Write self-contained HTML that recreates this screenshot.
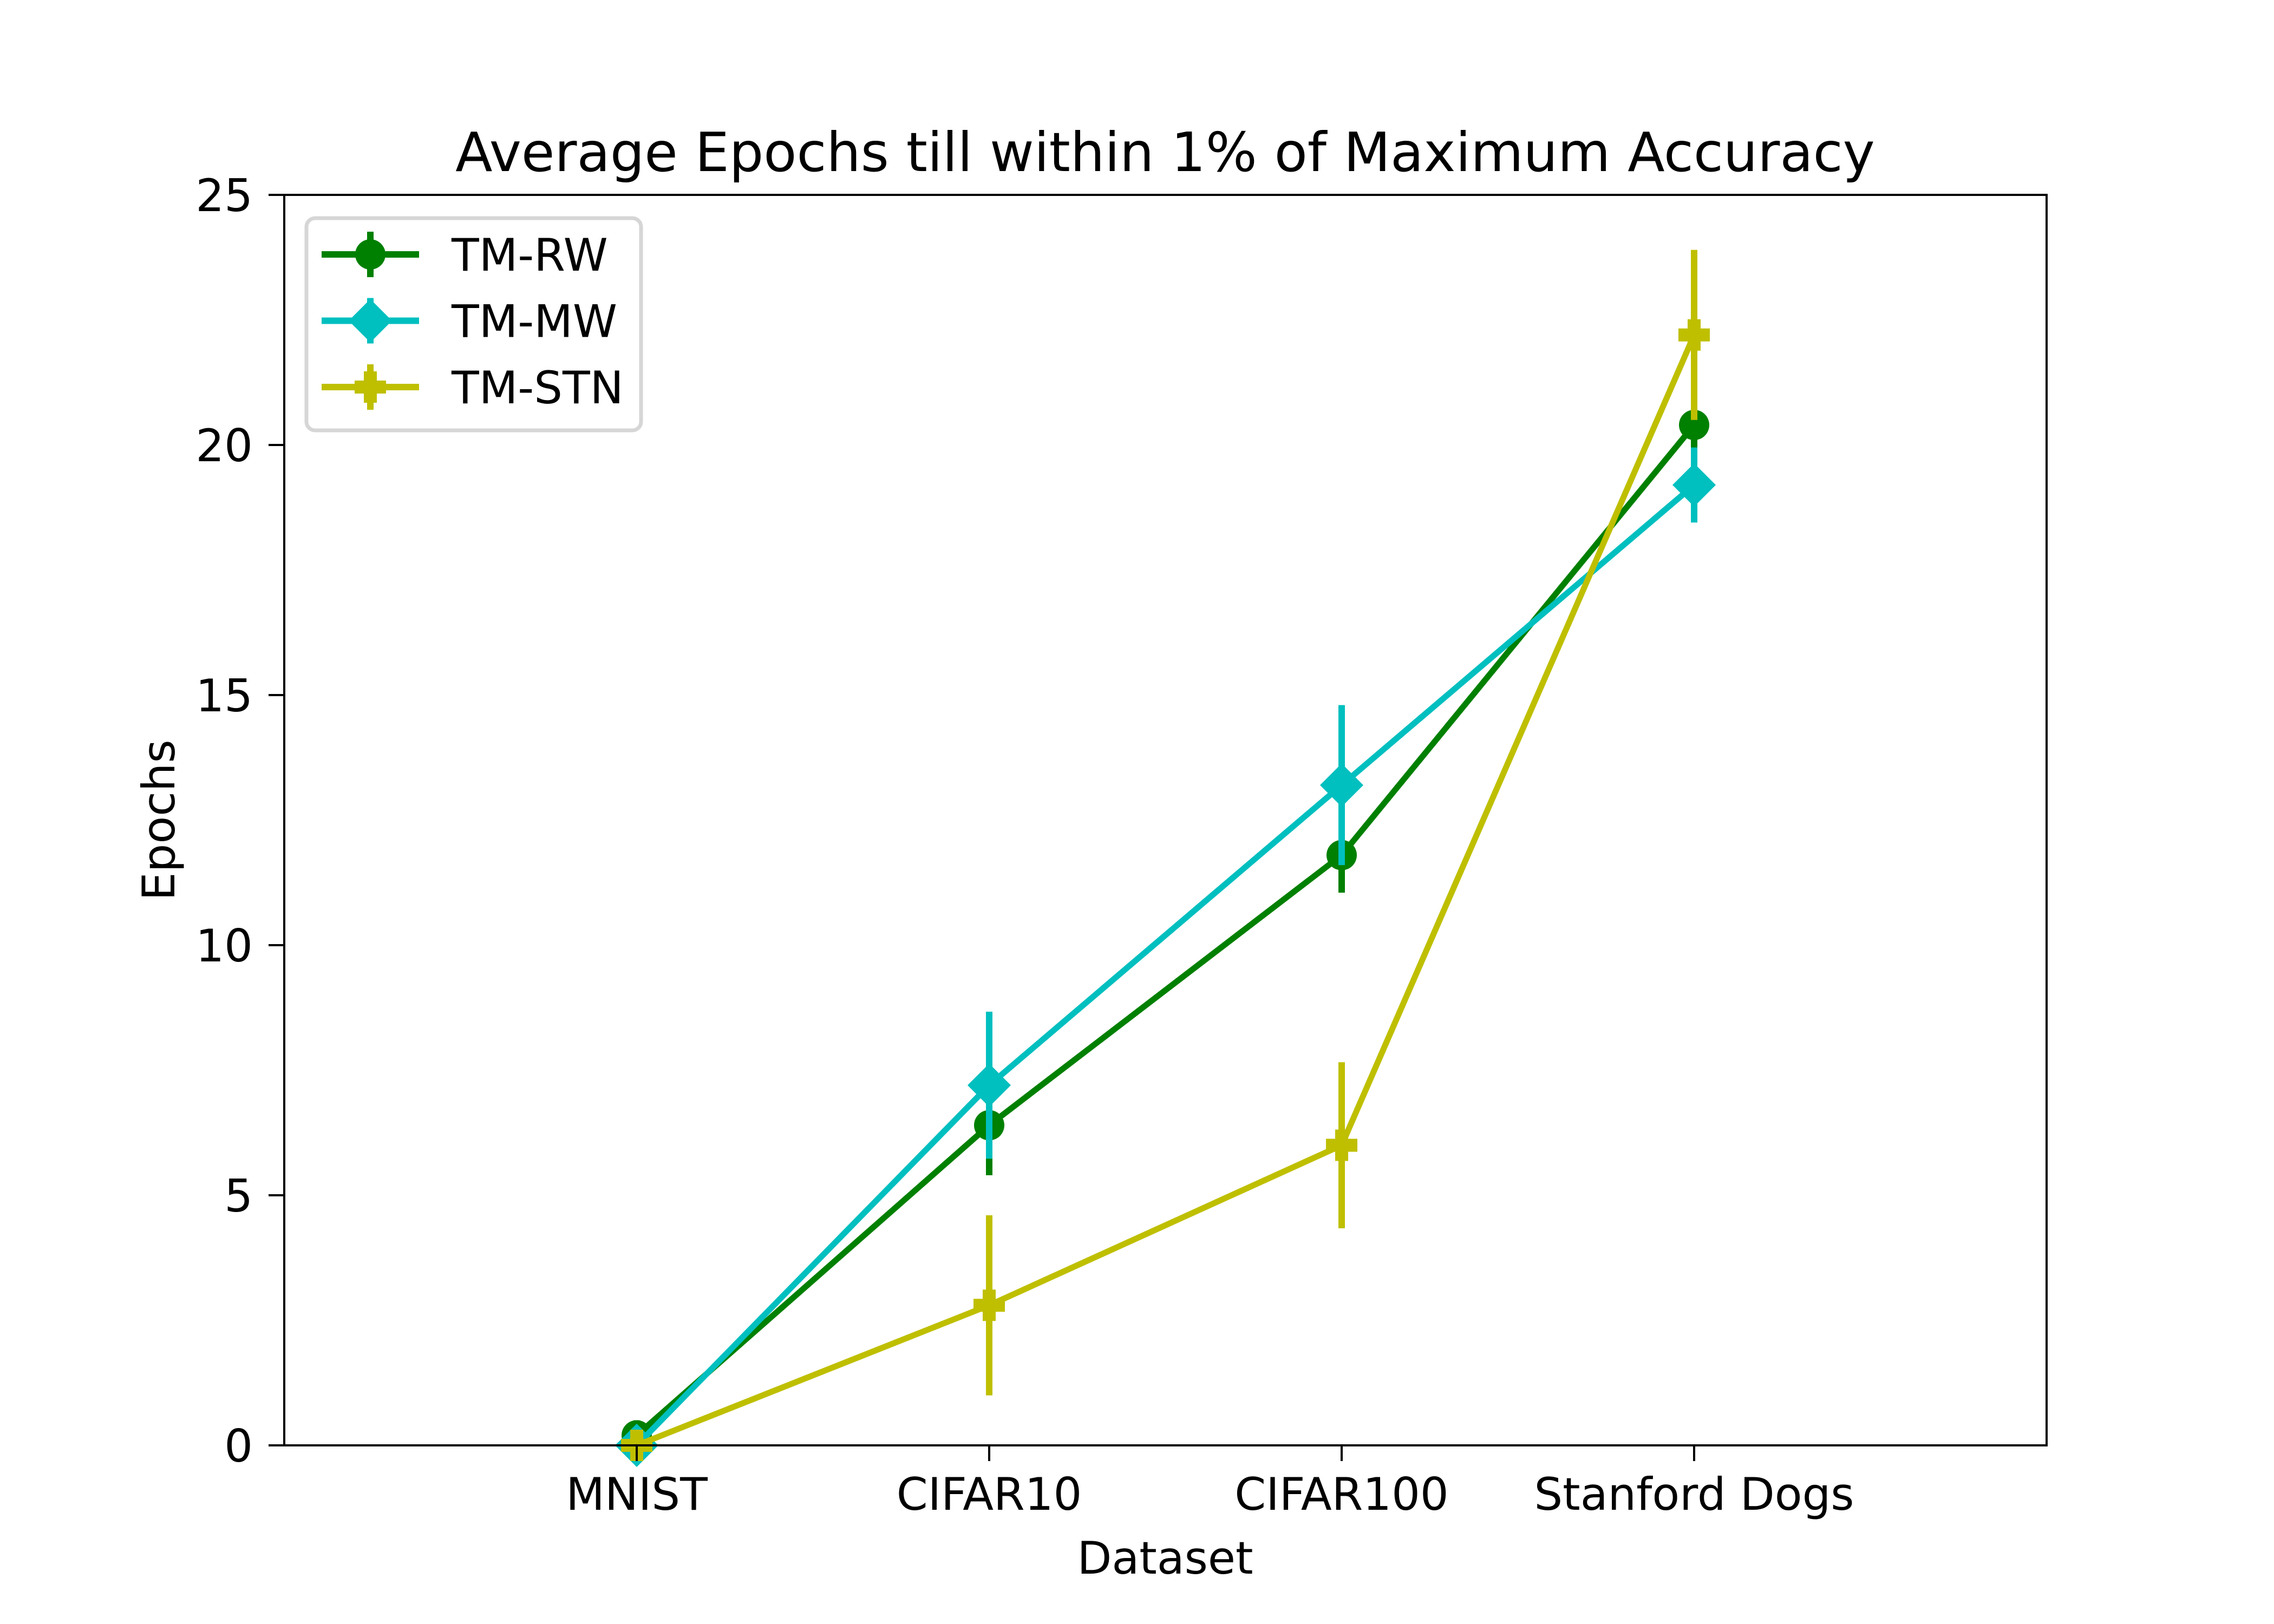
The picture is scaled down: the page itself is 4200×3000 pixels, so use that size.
<!DOCTYPE html>
<html><head><meta charset="utf-8"><style>
html,body{margin:0;padding:0;background:#fff}
svg{display:block}
text{font-family:"DejaVu Sans","Liberation Sans",sans-serif;fill:#000}
</style></head><body>
<svg id="chart" width="4200" height="3000" viewBox="0 0 4200 3000">
<rect x="0" y="0" width="4200" height="3000" fill="#fff"/>
<text x="2152" y="316" font-size="100" text-anchor="middle">Average Epochs till within 1% of Maximum Accuracy</text>
<g id="plot"></g>
<rect x="525" y="360" width="3255" height="2310" fill="none" stroke="#000" stroke-width="4"/>
<text x="2152" y="2907" font-size="83" text-anchor="middle">Dataset</text>
<text transform="translate(322,1515) rotate(-90)" font-size="83" text-anchor="middle">Epochs</text>
<g id="legend"></g>
</svg>
<script>
const categories = ["MNIST","CIFAR10","CIFAR100","Stanford Dogs"];
const yTicks = [0,5,10,15,20,25];
const seriesNames = ["TM-RW","TM-MW","TM-STN"];
const rwValues = [0.2, 6.4, 11.8, 20.4];
const rwErrors = [0.3, 1.0, 0.75, 0.5];
const mwValues = [0.0, 7.2, 13.2, 19.2];
const mwErrors = [0.2, 1.47, 1.6, 0.75];
const stnValues = [0.0, 2.8, 6.0, 22.2];
const stnErrors = [0.3, 1.8, 1.66, 1.7];

const NS="http://www.w3.org/2000/svg";
const L=525,R=3780,T=360,B=2670;
const xMin=-1,xMax=4,yMin=0,yMax=25;
function xs(i){return L+(i-xMin)/(xMax-xMin)*(R-L);}
function ys(v){return B-(v-yMin)/(yMax-yMin)*(B-T);}
function mk(tag,attrs,parent){const e=document.createElementNS(NS,tag);for(const k in attrs)e.setAttribute(k,attrs[k]);parent.appendChild(e);return e;}
const svg=document.getElementById('chart');
const plot=document.getElementById('plot');

yTicks.forEach(t=>{
  const y=ys(t);
  const tk=mk('line',{x1:L-29,x2:L,y1:y,y2:y,stroke:'#000','stroke-width':4},svg);
  
  
  const tx=mk('text',{x:L-58,y:y+30,'font-size':83,'text-anchor':'end'},svg);
  tx.textContent=t;
  
  
});
categories.forEach((c,i)=>{
  const x=xs(i);
  const tk=mk('line',{x1:x,x2:x,y1:B,y2:B+29,stroke:'#000','stroke-width':4},svg);
  
  
  const tx=mk('text',{x:x,y:B+119,'font-size':83,'text-anchor':'middle'},svg);
  tx.textContent=c;
  
  
});

function marker(type,x,y,color,parent){
  let e;
  if(type==='o'){e=mk('circle',{cx:x,cy:y,r:28,fill:color},parent);}
  else if(type==='D'){const s=40;e=mk('polygon',{points:`${x},${y-s} ${x+s},${y} ${x},${y+s} ${x-s},${y}`,fill:color},parent);}
  else {const a=29,w=12;e=mk('polygon',{points:`${x-w},${y-a} ${x+w},${y-a} ${x+w},${y-w} ${x+a},${y-w} ${x+a},${y+w} ${x+w},${y+w} ${x+w},${y+a} ${x-w},${y+a} ${x-w},${y+w} ${x-a},${y+w} ${x-a},${y-w} ${x-w},${y-w}`,fill:color},parent);}
  return e;
}
const series=[
  {name:seriesNames[0],vals:rwValues,errs:rwErrors,color:'#008000',m:'o'},
  {name:seriesNames[1],vals:mwValues,errs:mwErrors,color:'#00bfbf',m:'D'},
  {name:seriesNames[2],vals:stnValues,errs:stnErrors,color:'#bfbf00',m:'P'}
];
series.forEach((s,si)=>{
  const g=mk('g',{},plot);
  
  
  s.vals.forEach((v,i)=>{
    const eb=mk('line',{x1:xs(i),x2:xs(i),y1:ys(v+s.errs[i]),y2:ys(Math.max(0,v-s.errs[i])),stroke:s.color,'stroke-width':12},g);
    
    
  });
  const pts=s.vals.map((v,i)=>xs(i)+','+ys(v)).join(' ');
  const pl=mk('polyline',{points:pts,fill:'none',stroke:s.color,'stroke-width':11,'stroke-linejoin':'round'},g);
  
  
  s.vals.forEach((v,i)=>{
    const p=marker(s.m,xs(i),ys(v),s.color,g);
    
    
  });
});

const lg=document.getElementById('legend');
mk('rect',{x:566,y:403,width:618,height:392,rx:16,fill:'#fff',stroke:'#d6d6d6','stroke-width':7},lg);
series.forEach((s,i)=>{
  const y=470+i*122.5;
  const g=mk('g',{},lg);
  
  
  mk('line',{x1:594,x2:774,y1:y,y2:y,stroke:s.color,'stroke-width':12},g);
  mk('line',{x1:684,x2:684,y1:y-42,y2:y+42,stroke:s.color,'stroke-width':12},g);
  marker(s.m,684,y,s.color,g);
  const t=mk('text',{x:834,y:y+30,'font-size':83},g);
  t.textContent=s.name;
});
</script>
</body></html>
